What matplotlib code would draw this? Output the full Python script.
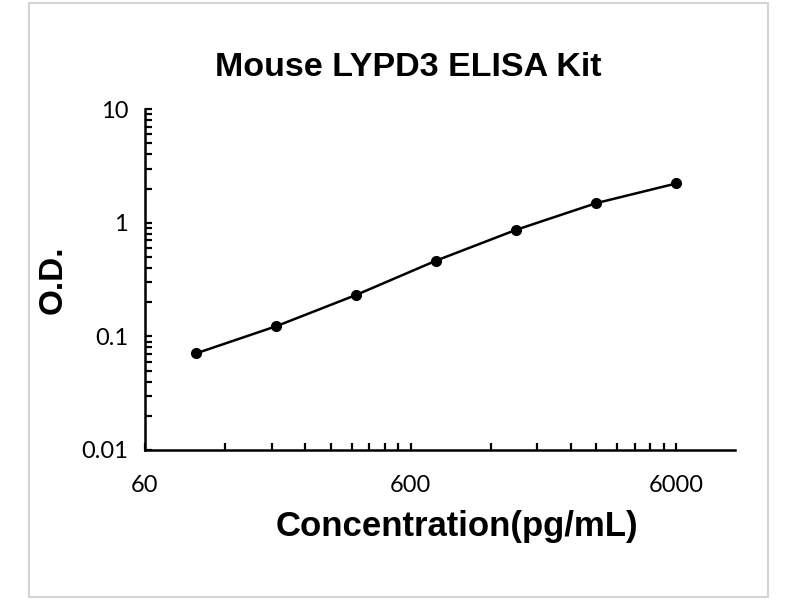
import matplotlib.pyplot as plt
from matplotlib.ticker import FixedLocator, NullFormatter
import matplotlib.patches as patches

# standard curve readings
conc = [93.75, 187.5, 375, 750, 1500, 3000, 6000]
od = [0.071, 0.123, 0.232, 0.465, 0.868, 1.49, 2.22]

xticks = [60, 600, 6000]
xtick_labels = ['60', '600', '6000']
yticks = [0.01, 0.1, 1, 10]
ytick_labels = ['0.01', '0.1', '1', '10']

title = 'Mouse LYPD3 ELISA Kit'
xlabel = 'Concentration(pg/mL)'
ylabel = 'O.D.'

tick_font = 'Lato'
bold_font = 'Liberation Sans'

fig = plt.figure(figsize=(8, 6), dpi=100)
fig.patch.set_facecolor('white')

# light grey frame around the whole picture
fig.patches.append(patches.Rectangle((29 / 800, 3 / 600), 739 / 800, 594 / 600,
                                     transform=fig.transFigure, fill=False,
                                     edgecolor='#d4d4d4', linewidth=1.5))

ax = fig.add_axes([0.181, 0.25, 0.738, 0.568])
ax.plot(conc, od, color='black', linewidth=1.8, marker='o', markersize=7)

ax.set_xscale('log')
ax.set_yscale('log')
ax.set_xlim(60, 10000)
ax.set_ylim(0.01, 10)

ax.xaxis.set_major_locator(FixedLocator(xticks))
ax.set_xticklabels(xtick_labels, fontsize=17, family=tick_font)
xminor = [t * k for t in xticks for k in range(2, 10)]
ax.xaxis.set_minor_locator(FixedLocator(xminor))
ax.xaxis.set_minor_formatter(NullFormatter())

ax.yaxis.set_major_locator(FixedLocator(yticks))
ax.set_yticklabels(ytick_labels, fontsize=17, family=tick_font)
yminor = [t * k for t in yticks[:-1] for k in range(2, 10)]
ax.yaxis.set_minor_locator(FixedLocator(yminor))
ax.yaxis.set_minor_formatter(NullFormatter())

for s in ['top', 'right']:
    ax.spines[s].set_visible(False)
for s in ['left', 'bottom']:
    ax.spines[s].set_linewidth(1.8)

ax.tick_params(which='both', direction='in', length=5, width=1.6, color='black')
ax.tick_params(axis='x', which='major', pad=18)
ax.tick_params(axis='y', which='major', pad=12)

fig.text(0.51, 0.887, title, ha='center', va='center', fontsize=24.5,
         fontweight='bold', family=bold_font)
ax.set_xlabel(xlabel, fontsize=25, fontweight='bold', family=bold_font, labelpad=10)
ax.xaxis.label.set_x(0.529)
ax.set_ylabel(ylabel, fontsize=24, fontweight='bold', family=bold_font, labelpad=9)

plt.savefig('out.png', dpi=100)
